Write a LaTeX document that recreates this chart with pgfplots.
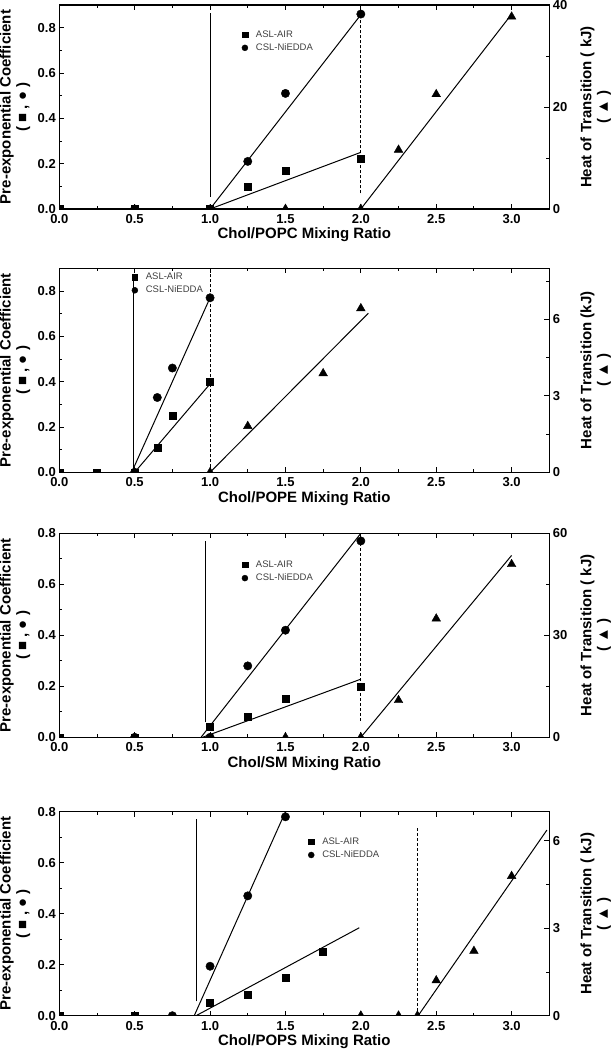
\documentclass[border=0pt]{standalone}
\usepackage{pgfplots}
\pgfplotsset{compat=1.18}
\usepackage{fontspec}
\setmainfont{Liberation Sans}
\pgfplotsset{
  panel/.style={scale only axis, width=490pt, height=204pt, xmin=0, xmax=3.25, ymin=0,
    tick align=inside, major tick length=5pt, minor tick length=3pt,
    axis line style={line width=1.1pt},
    every tick/.append style={line width=0.9pt, black},
    ticklabel style={font=\bfseries\fontsize{13}{15}\selectfont},
    label style={font=\bfseries\fontsize{15}{16.5}\selectfont},
    /pgf/number format/assume math mode=true,
    clip marker paths=true},
  leftax/.style={panel, xtick={0,0.5,1,1.5,2,2.5,3}, minor x tick num=1,
    ytick pos=left, minor y tick num=1,
    xticklabel style={yshift=-2pt, /pgf/number format/fixed, /pgf/number format/fixed zerofill, /pgf/number format/precision=1},
    yticklabel style={/pgf/number format/fixed, /pgf/number format/fixed zerofill, /pgf/number format/precision=1},
    ylabel style={align=center, at={(axis description cs:-0.0904,0.5)}, anchor=center},
    xlabel style={at={(axis description cs:0.5,-0.127)}, anchor=center},
    ylabel={Pre-exponential Coefficient\\( ■ , ● )},
    legend cell align=left,
    legend style={draw=none, fill=none, font=\fontsize{9.5}{11}\selectfont, text=black!75, anchor=west, row sep=1pt}},
  rightax/.style={panel, axis y line*=right, axis x line=none, minor y tick num=1,
    ylabel style={align=center, at={(axis description cs:1.095,0.5)}, anchor=center}},
  fitline/.style={black, line width=1pt, no marks, forget plot},
  dline/.style={black, line width=1pt, no marks, forget plot, dash pattern=on 3pt off 2pt},
  sq/.style={only marks, mark=square*, mark size=3.5pt, black, forget plot},
  ci/.style={only marks, mark=*, mark size=4.2pt, black, forget plot},
  tri/.style={only marks, mark=triangle*, mark size=5pt, black, forget plot},
}
\newcommand{\legA}{\hspace{6pt}ASL-AIR}
\newcommand{\legB}{\hspace{6pt}CSL-NiEDDA}
\begin{document}
\begin{tikzpicture}
\path[use as bounding box] (-59.3pt,5pt) rectangle (553.7pt,-1045pt);
% ---------- Panel 1: POPC ----------
\begin{axis}[leftax, at={(0pt,0pt)}, anchor=north west, ymax=0.9, ytick={0,0.2,0.4,0.6,0.8},
  xlabel={Chol/POPC Mixing Ratio}, legend style={at={(axis cs:1.19,0.74)}}]
\addplot[fitline] coordinates {(1,0.055) (1,0.865)};
\addplot[fitline] coordinates {(1,0) (2,0.857)};
\addplot[fitline] coordinates {(1,0) (2,0.25)};
\addplot[dline] coordinates {(2,0.069) (2,0.86)};
\addplot[ci] coordinates {(0.5,0) (1,0) (1.25,0.21) (1.5,0.51) (2,0.86)};
\addplot[sq] coordinates {(0,0) (0.5,0) (1,0) (1.25,0.10) (1.5,0.17) (2,0.22)};
\addlegendimage{only marks, mark=square*, mark size=2.8pt, black}
\addlegendentry{\legA}
\addlegendimage{only marks, mark=*, mark size=3pt, black}
\addlegendentry{\legB}
\end{axis}
\begin{axis}[rightax, at={(0pt,0pt)}, anchor=north west, ymax=40, ytick={0,20,40},
  ylabel={Heat of Transition ( kJ)\\( ▲ )}]
\addplot[fitline] coordinates {(2,0) (3,38.2)};
\addplot[tri] coordinates {(1.5,0) (2,0) (2.25,11.6) (2.5,22.5) (3,37.7)};
\end{axis}
% ---------- Panel 2: POPE ----------
\begin{axis}[leftax, at={(0pt,-263.3pt)}, anchor=north west, ymax=0.9, ytick={0,0.2,0.4,0.6,0.8},
  xlabel={Chol/POPE Mixing Ratio}, legend style={at={(axis cs:0.46,0.832)}}]
\addplot[fitline] coordinates {(0.49,0) (0.49,0.87)};
\addplot[fitline] coordinates {(0.48,0) (1,0.77)};
\addplot[fitline] coordinates {(0.5,0) (1,0.39)};
\addplot[dline] coordinates {(1,0) (1,0.9)};
\addplot[ci] coordinates {(0.5,0) (0.65,0.33) (0.75,0.46) (1,0.77)};
\addplot[sq] coordinates {(0,0) (0.25,0) (0.5,0) (0.65,0.11) (0.75,0.25) (1,0.40)};
\addlegendimage{only marks, mark=square*, mark size=2.8pt, black}
\addlegendentry{\legA}
\addlegendimage{only marks, mark=*, mark size=3pt, black}
\addlegendentry{\legB}
\end{axis}
\begin{axis}[rightax, at={(0pt,-263.3pt)}, anchor=north west, ymax=8, ytick={0,3,6,9},
  ylabel={Heat of Transition (kJ)\\( ▲ )}]
\addplot[fitline] coordinates {(1,0) (2.05,6.24)};
\addplot[tri] coordinates {(1,0) (1.25,1.81) (1.75,3.88) (2,6.43)};
\end{axis}
% ---------- Panel 3: SM ----------
\begin{axis}[leftax, at={(0pt,-528.3pt)}, anchor=north west, ymax=0.8, ytick={0,0.2,0.4,0.6,0.8},
  xlabel={Chol/SM Mixing Ratio}, legend style={at={(axis cs:1.19,0.65)}}]
\addplot[fitline] coordinates {(0.97,0.059) (0.97,0.77)};
\addplot[fitline] coordinates {(0.94,0) (2,0.80)};
\addplot[fitline] coordinates {(0.95,0) (2,0.228)};
\addplot[dline] coordinates {(2,0.065) (2,0.79)};
\addplot[ci] coordinates {(0.5,0) (1,0) (1.25,0.28) (1.5,0.42) (2,0.77)};
\addplot[sq] coordinates {(0,0) (0.5,0) (1,0.04) (1.25,0.08) (1.5,0.15) (2,0.20)};
\addlegendimage{only marks, mark=square*, mark size=2.8pt, black}
\addlegendentry{\legA}
\addlegendimage{only marks, mark=*, mark size=3pt, black}
\addlegendentry{\legB}
\end{axis}
\begin{axis}[rightax, at={(0pt,-528.3pt)}, anchor=north west, ymax=60, ytick={0,30,60},
  ylabel={Heat of Transition ( kJ)\\( ▲ )}]
\addplot[fitline] coordinates {(2,0) (3,53.5)};
\addplot[tri] coordinates {(1.5,0) (2,0) (2.25,10.9) (2.5,34.9) (3,50.9)};
\end{axis}
% ---------- Panel 4: POPS ----------
\begin{axis}[leftax, at={(0pt,-806.7pt)}, anchor=north west, ymax=0.8, ytick={0,0.2,0.4,0.6,0.8},
  xlabel={Chol/POPS Mixing Ratio}, legend style={at={(axis cs:1.63,0.656)}}]
\addplot[fitline] coordinates {(0.907,0.056) (0.907,0.77)};
\addplot[fitline] coordinates {(0.895,0) (1.5,0.8)};
\addplot[fitline] coordinates {(0.907,0) (1.99,0.345)};
\addplot[dline] coordinates {(2.373,0) (2.373,0.738)};
\addplot[ci] coordinates {(0.75,0) (1,0.194) (1.25,0.47) (1.5,0.78)};
\addplot[sq] coordinates {(0,0) (0.5,0) (1,0.05) (1.25,0.084) (1.5,0.151) (1.75,0.25)};
\addlegendimage{only marks, mark=square*, mark size=2.8pt, black}
\addlegendentry{\legA}
\addlegendimage{only marks, mark=*, mark size=3pt, black}
\addlegendentry{\legB}
\end{axis}
\begin{axis}[rightax, at={(0pt,-806.7pt)}, anchor=north west, ymax=7, ytick={0,3,6,9},
  ylabel={Heat of Transition ( kJ)\\( ▲ )}]
\addplot[fitline] coordinates {(2.38,0) (3.234,6.37)};
\addplot[tri] coordinates {(2,0) (2.25,0) (2.375,0) (2.5,1.21) (2.75,2.22) (3,4.79)};
\end{axis}
\end{tikzpicture}
\end{document}
